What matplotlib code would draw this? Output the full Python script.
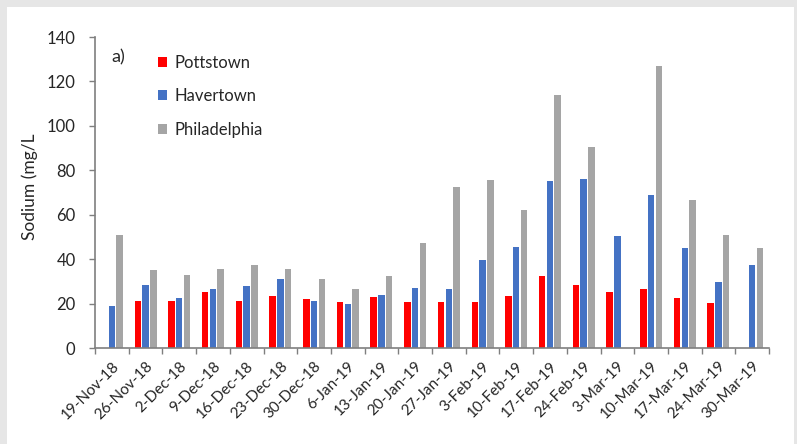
import numpy as np
import matplotlib
matplotlib.use('Agg')
import matplotlib.pyplot as plt
from matplotlib.patches import Rectangle

plt.rcParams['font.family'] = ['Lato', 'DejaVu Sans']

dates = ['19-Nov-18', '26-Nov-18', '2-Dec-18', '9-Dec-18', '16-Dec-18', '23-Dec-18',
         '30-Dec-18', '6-Jan-19', '13-Jan-19', '20-Jan-19', '27-Jan-19', '3-Feb-19',
         '10-Feb-19', '17-Feb-19', '24-Feb-19', '3-Mar-19', '10-Mar-19', '17-Mar-19',
         '24-Mar-19', '30-Mar-19']

# sodium (mg/L), nan where no sample
pottstown = [np.nan, 21, 21, 25, 21.3, 23.3, 22.2, 20.6, 23.1, 20.8, 20.8, 20.8,
             23.3, 32.2, 28.4, 25.4, 26.5, 22.4, 20.2, np.nan]
havertown = [19, 28.5, 22.3, 26.5, 28, 31.2, 21, 19.7, 24, 27.1, 26.5, 39.4,
             45.4, 75.2, 76, 50.3, 69, 45, 29.6, 37.3]
philadelphia = [50.7, 35.3, 32.8, 35.5, 37.4, 35.4, 31, 26.5, 32.5, 47.2, 72.6, 75.8,
                62.3, 114, 90.4, np.nan, 127, 66.8, 50.7, 45.2]

series = [('Pottstown', pottstown, '#ff0000'),
          ('Havertown', havertown, '#4472c4'),
          ('Philadelphia', philadelphia, '#a5a5a5')]

txtcol = '#262626'

fig = plt.figure(figsize=(7.97, 4.44), dpi=100)
fig.patch.set_facecolor('#e6e6e6')
fig.patches.append(Rectangle((7 / 797, 0), 787 / 797, 437 / 444, transform=fig.transFigure,
                             facecolor='white', edgecolor='none', zorder=-10))

ax = fig.add_axes([95 / 797, 1 - 348 / 444, 674 / 797, 311 / 444])
ax.set_facecolor('none')

x = np.arange(len(dates))
w = 0.19
step = 0.23
for i, (name, vals, col) in enumerate(series):
    ax.bar(x + (i - 1) * step, vals, width=w, color=col, label=name, zorder=2)

ax.set_xlim(-0.5, len(dates) - 0.5)
ax.set_ylim(0, 140)
ax.set_yticks(np.arange(0, 141, 20))
ax.set_xticks(x)
ax.set_xticklabels(dates, rotation=45, ha='right', va='top', rotation_mode='anchor', fontsize=11, color=txtcol)
ax.set_xticks(np.arange(-0.5, len(dates), 1), minor=True)
ax.tick_params(axis='x', which='major', length=0, pad=8)
ax.tick_params(axis='x', which='minor', length=4, width=1, color='#7f7f7f', direction='out')
ax.tick_params(axis='y', length=4, width=1, color='#7f7f7f', labelsize=12, labelcolor=txtcol, pad=10)

for s in ['top', 'right']:
    ax.spines[s].set_visible(False)
for s in ['left', 'bottom']:
    ax.spines[s].set_color('#7f7f7f')
    ax.spines[s].set_linewidth(1.2)

ax.set_ylabel('Sodium (mg/L', fontsize=12.5, color=txtcol)
ax.yaxis.set_label_coords(-0.085, 0.52)

ax.text(0.024, 0.96, 'a)', transform=ax.transAxes, fontsize=13, color=txtcol, va='top')

leg = ax.legend(loc='upper left', bbox_to_anchor=(151 / 797, 1 - 48 / 444), bbox_transform=fig.transFigure,
                frameon=False, fontsize=12, handlelength=0.55, handleheight=0.55, handletextpad=0.45,
                labelspacing=1.05, borderaxespad=0)
for t in leg.get_texts():
    t.set_color(txtcol)

fig.savefig('out.png', dpi=100, facecolor=fig.get_facecolor())
